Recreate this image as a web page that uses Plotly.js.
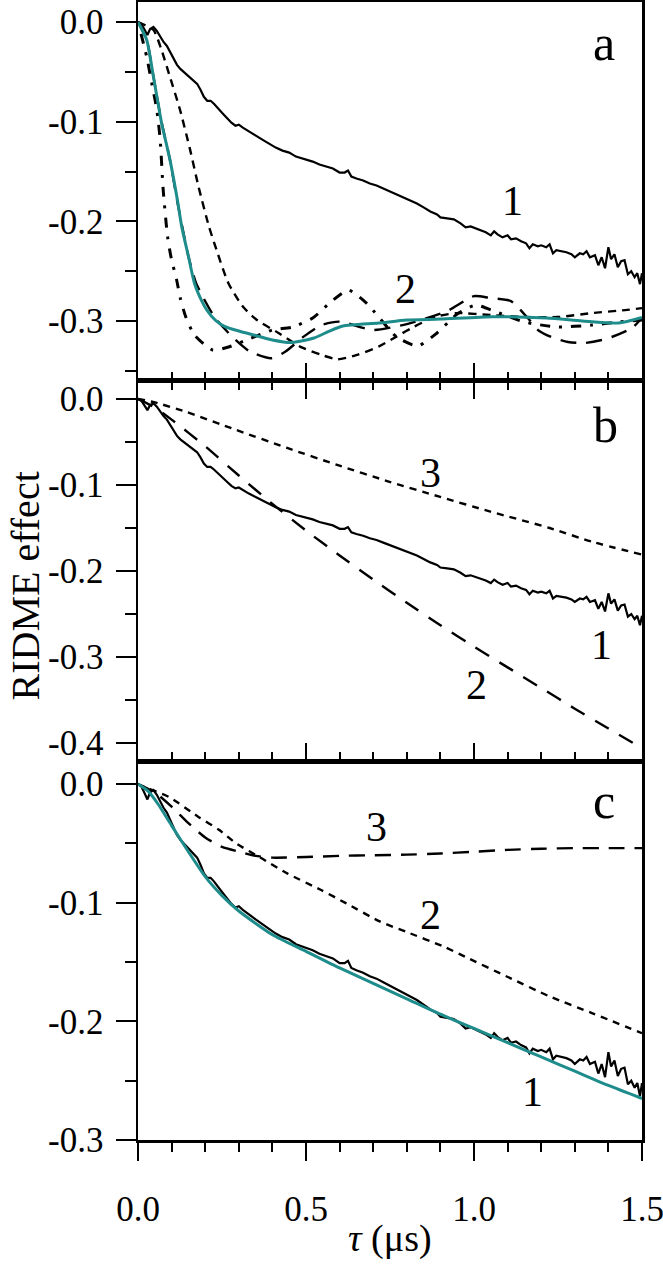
<!DOCTYPE html>
<html>
<head>
<meta charset="utf-8">
<script src="https://cdn.plot.ly/plotly-3.0.1.min.js"></script>
<style>html,body{margin:0;padding:0;background:#fff;}#chart{width:663px;height:1264px;}</style>
</head>
<body>
<div id="chart"></div>
<script>
// ---------- data ----------
// experimental RIDME trace (curve 1, same in all panels)
const tau = [0.000,0.010,0.020,0.028,0.036,0.046,0.056,0.066,0.076,0.086,0.096,0.106,0.116,0.126,0.136,0.146,0.156,0.166,0.176,0.186,0.196,0.206,0.216,0.226,0.236,0.250,0.264,0.278,0.290,0.300,0.312,0.330,0.350,0.370,0.390,0.410,0.430,0.450,0.470,0.490,0.505,0.520,0.540,0.560,0.580,0.600,0.615,0.625,0.635,0.650,0.670,0.690,0.710,0.730,0.750,0.770,0.790,0.810,0.830,0.850,0.870,0.890,0.900,0.920,0.940,0.960,0.975,0.990,1.005,1.020,1.035,1.050,1.060,1.070,1.085,1.100,1.110,1.125,1.140,1.155,1.165,1.175,1.190,1.200,1.215,1.225,1.235,1.245,1.260,1.275,1.290,1.300,1.315,1.325,1.335,1.345,1.360,1.370,1.380,1.390,1.400,1.408,1.418,1.428,1.438,1.448,1.458,1.468,1.478,1.486,1.494,1.500];
const ridme = [0.000,-0.002,-0.008,-0.013,-0.007,-0.005,-0.009,-0.015,-0.020,-0.024,-0.030,-0.037,-0.043,-0.047,-0.050,-0.053,-0.056,-0.059,-0.062,-0.068,-0.075,-0.079,-0.079,-0.082,-0.086,-0.091,-0.096,-0.101,-0.104,-0.103,-0.106,-0.110,-0.114,-0.118,-0.122,-0.126,-0.129,-0.131,-0.135,-0.137,-0.138,-0.140,-0.143,-0.145,-0.147,-0.151,-0.151,-0.149,-0.155,-0.157,-0.159,-0.162,-0.164,-0.167,-0.170,-0.173,-0.176,-0.179,-0.182,-0.186,-0.190,-0.193,-0.196,-0.197,-0.198,-0.202,-0.206,-0.205,-0.207,-0.209,-0.211,-0.214,-0.210,-0.213,-0.216,-0.214,-0.218,-0.217,-0.220,-0.222,-0.227,-0.223,-0.225,-0.224,-0.226,-0.223,-0.232,-0.229,-0.230,-0.231,-0.233,-0.236,-0.232,-0.233,-0.230,-0.236,-0.234,-0.244,-0.236,-0.247,-0.226,-0.238,-0.233,-0.246,-0.240,-0.239,-0.253,-0.250,-0.256,-0.252,-0.263,-0.252];

// panel a: fit (teal) and simulated traces
const fitA_x = [0,0.026,0.046,0.070,0.095,0.117,0.130,0.150,0.168,0.190,0.205,0.230,0.259,0.300,0.344,0.400,0.455,0.524,0.570,0.610,0.716,0.800,0.900,1.056,1.216,1.322,1.430,1.500];
const fitA_y = [0,-0.018,-0.055,-0.101,-0.138,-0.178,-0.205,-0.235,-0.262,-0.280,-0.289,-0.299,-0.3056,-0.310,-0.314,-0.319,-0.3216,-0.317,-0.310,-0.305,-0.302,-0.299,-0.298,-0.2956,-0.297,-0.2999,-0.302,-0.2963];
const shortA_x = [0,0.046,0.070,0.095,0.125,0.155,0.180,0.211,0.237,0.269,0.312,0.354,0.418,0.482,0.546,0.594,0.652,0.716,0.769,0.822,0.886,0.950,1.050,1.150,1.250,1.350,1.450,1.500];
const shortA_y = [0,-0.008,-0.028,-0.055,-0.088,-0.128,-0.165,-0.205,-0.232,-0.262,-0.2855,-0.299,-0.312,-0.3256,-0.334,-0.3384,-0.334,-0.3256,-0.3156,-0.3056,-0.2956,-0.292,-0.294,-0.296,-0.296,-0.292,-0.289,-0.287];
const longA_x = [0,0.026,0.046,0.070,0.095,0.117,0.150,0.173,0.227,0.280,0.333,0.397,0.439,0.493,0.546,0.600,0.700,0.800,0.920,1.000,1.050,1.110,1.160,1.190,1.230,1.280,1.330,1.380,1.410,1.470,1.500];
const longA_y = [0,-0.018,-0.055,-0.100,-0.138,-0.180,-0.235,-0.262,-0.2956,-0.3156,-0.3306,-0.3373,-0.3306,-0.3156,-0.304,-0.3006,-0.309,-0.303,-0.290,-0.275,-0.277,-0.280,-0.297,-0.309,-0.316,-0.321,-0.322,-0.319,-0.316,-0.307,-0.297];
const dotA_x = [0,0.026,0.041,0.056,0.066,0.075,0.088,0.099,0.115,0.126,0.142,0.168,0.222,0.270,0.330,0.400,0.460,0.520,0.570,0.626,0.680,0.770,0.833,0.890,0.950,1.005,1.067,1.150,1.250,1.350,1.430,1.500];
const dotA_y = [0,-0.035,-0.0615,-0.088,-0.118,-0.1685,-0.2153,-0.237,-0.2588,-0.2772,-0.2956,-0.314,-0.329,-0.326,-0.318,-0.309,-0.306,-0.297,-0.282,-0.269,-0.282,-0.316,-0.325,-0.312,-0.293,-0.284,-0.291,-0.301,-0.306,-0.304,-0.301,-0.299];

// panel b: simulated components
const b2_x = [0,0.05,0.1,0.2,0.3,0.4,0.5,0.6,0.7,0.8,0.9,1.0,1.1,1.2,1.3,1.4,1.5];
const b2_y = [0,-0.010,-0.024,-0.055,-0.089,-0.122,-0.153,-0.182,-0.210,-0.237,-0.263,-0.288,-0.312,-0.336,-0.360,-0.383,-0.406];
const b3_x = [0,0.05,0.141,0.292,0.444,0.595,0.746,0.897,1.049,1.225,1.351,1.5];
const b3_y = [0,-0.004,-0.0147,-0.036,-0.057,-0.077,-0.096,-0.1136,-0.131,-0.150,-0.166,-0.181];

// panel c: fit (teal) and components
const fitC_x = [0,0.03,0.06,0.1,0.15,0.2,0.25,0.3,0.4,0.5,0.6,0.7,0.8,0.9,1.0,1.1,1.2,1.3,1.4,1.5];
const fitC_y = [0,-0.006,-0.017,-0.035,-0.057,-0.078,-0.094,-0.107,-0.127,-0.141,-0.155,-0.168,-0.181,-0.194,-0.206,-0.218,-0.230,-0.242,-0.254,-0.265];
const c2_x = [0,0.015,0.091,0.179,0.242,0.292,0.368,0.444,0.545,0.620,0.721,0.797,0.910,0.973,1.099,1.225,1.351,1.5];
const c2_y = [0,-0.002,-0.0107,-0.0275,-0.0388,-0.050,-0.0626,-0.0753,-0.0893,-0.1006,-0.116,-0.1244,-0.137,-0.1455,-0.1624,-0.179,-0.193,-0.210];
const c3_x = [0,0.05,0.1,0.15,0.2,0.25,0.3,0.35,0.4,0.5,0.6,0.7,0.8,0.9,1.0,1.1,1.2,1.3,1.4,1.5];
const c3_y = [0,-0.007,-0.019,-0.033,-0.045,-0.053,-0.057,-0.0605,-0.062,-0.0615,-0.0605,-0.060,-0.0595,-0.0585,-0.057,-0.0555,-0.0545,-0.054,-0.054,-0.054];

// tick labels
const xTickVals = [0, 0.5, 1.0, 1.5];
const xTickText = ['0.0', '0.5', '1.0', '1.5'];
const yTickValsA = [0, -0.1, -0.2, -0.3];
const yTickTextA = ['0.0', '-0.1', '-0.2', '-0.3'];
const yTickValsB = [0, -0.1, -0.2, -0.3, -0.4];
const yTickTextB = ['0.0', '-0.1', '-0.2', '-0.3', '-0.4'];
const yTickValsC = [0, -0.1, -0.2, -0.3];
const yTickTextC = ['0.0', '-0.1', '-0.2', '-0.3'];

// curve labels
const labA = [{t:'1', x:1.115, y:-0.1795}, {t:'2', x:0.797, y:-0.268}];
const labB = [{t:'3', x:0.872, y:-0.086}, {t:'1', x:1.379, y:-0.286}, {t:'2', x:1.007, y:-0.3326}];
const labC = [{t:'3', x:0.711, y:-0.036}, {t:'2', x:0.872, y:-0.1104}, {t:'1', x:1.175, y:-0.2592}];
const panelLetters = [{t:'a', x:1.387, y:-0.021, ax:'y3'}, {t:'b', x:1.392, y:-0.030, ax:'y2'}, {t:'c', x:1.387, y:-0.014, ax:'y'}];

// ---------- styling ----------
const FONT = '"Liberation Serif", "Times New Roman", serif';
const TEAL = '#1f8c8c';
const BLK = '#000000';

function tr(x, y, xa, ya, color, width, dash, shape) {
  return {x: x, y: y, xaxis: xa, yaxis: ya, type: 'scatter', mode: 'lines',
    line: {color: color, width: width, dash: dash || 'solid', shape: shape || 'linear', smoothing: 0.6},
    hoverinfo: 'skip', showlegend: false};
}

const data = [
  // panel a
  tr(tau, ridme, 'x3', 'y3', BLK, 2.2),
  tr(dotA_x, dotA_y, 'x3', 'y3', BLK, 3, '3px,9px,10px,9px', 'spline'),
  tr(shortA_x, shortA_y, 'x3', 'y3', BLK, 2.4, '8px,6px', 'spline'),
  tr(longA_x, longA_y, 'x3', 'y3', BLK, 2.4, '16px,10px', 'spline'),
  tr(fitA_x, fitA_y, 'x3', 'y3', TEAL, 3, 'solid', 'spline'),
  // panel b
  tr(tau, ridme, 'x2', 'y2', BLK, 2.2),
  tr(b2_x, b2_y, 'x2', 'y2', BLK, 2.4, '16px,12px', 'spline'),
  tr(b3_x, b3_y, 'x2', 'y2', BLK, 2.4, '7px,6px', 'spline'),
  // panel c
  tr(tau, ridme, 'x', 'y', BLK, 2.2),
  tr(c2_x, c2_y, 'x', 'y', BLK, 2.4, '7px,6px', 'spline'),
  tr(c3_x, c3_y, 'x', 'y', BLK, 2.4, '16px,10px', 'spline'),
  tr(fitC_x, fitC_y, 'x', 'y', TEAL, 3, 'solid', 'spline')
];

const tickFont = {family: FONT, size: 35, color: '#000'};
function xAx(anchor, ticks, mirror, labels) {
  return {anchor: anchor, range: [0, 1.5], tickmode: 'array', tickvals: xTickVals, ticktext: xTickText,
    ticks: ticks, ticklen: 18, tickwidth: 2, tickcolor: '#000',
    minor: {tickmode: 'linear', tick0: 0, dtick: 0.1, ticks: ticks, ticklen: 9, tickwidth: 2, tickcolor: '#000', showgrid: false},
    showline: true, linewidth: 2.5, linecolor: '#000', mirror: mirror,
    showgrid: false, zeroline: false, showticklabels: labels, tickfont: tickFont, ticklabelstandoff: 18,
    ticklabeloverflow: 'allow', fixedrange: true};
}
function yAx(domain, range, vals, text, anchor) {
  return {domain: domain, range: range, anchor: anchor, tickmode: 'array', tickvals: vals, ticktext: text,
    ticks: 'outside', ticklen: 20, tickwidth: 2, tickcolor: '#000',
    minor: {tickmode: 'linear', tick0: 0, dtick: 0.05, ticks: 'outside', ticklen: 11, tickwidth: 2, tickcolor: '#000', showgrid: false},
    showline: true, linewidth: 2.5, linecolor: '#000', mirror: true,
    showgrid: false, zeroline: false, tickfont: tickFont, ticklabelstandoff: 5, fixedrange: true};
}

const annotations = [];
function addLabels(list, xr, yr) {
  list.forEach(l => annotations.push({text: l.t, x: l.x, y: l.y, xref: xr, yref: yr, showarrow: false,
    xanchor: 'center', yanchor: 'middle', font: {family: FONT, size: 42, color: '#000'}}));
}
addLabels(labA, 'x3', 'y3');
addLabels(labB, 'x2', 'y2');
addLabels(labC, 'x', 'y');
panelLetters.forEach(l => annotations.push({text: l.t, x: l.x, y: l.y, xref: l.ax === 'y' ? 'x' : (l.ax === 'y2' ? 'x2' : 'x3'), yref: l.ax,
  showarrow: false, xanchor: 'center', yanchor: 'middle', font: {family: FONT, size: 50, color: '#000'}}));
annotations.push({text: '<i>τ</i> (μs)', xref: 'paper', yref: 'paper', x: 0.5, y: -0.1075, showarrow: false,
  xanchor: 'center', yanchor: 'bottom', font: {family: FONT, size: 38, color: '#000'}});
annotations.push({text: 'RIDME effect', xref: 'paper', yref: 'paper', x: -0.272, y: 0.4868, showarrow: false,
  textangle: -90, xanchor: 'left', yanchor: 'middle', font: {family: FONT, size: 40, color: '#000'}});

const layout = {
  width: 663, height: 1264,
  margin: {l: 138, r: 21, t: 2, b: 124, pad: 0},
  paper_bgcolor: '#fff', plot_bgcolor: '#fff',
  showlegend: false,
  xaxis: xAx('y', 'outside', true, true),
  xaxis4: Object.assign(xAx('y', 'inside', false, false), {overlaying: 'x', side: 'top', showline: false}),
  xaxis2: xAx('y2', 'inside', 'ticks', false),
  xaxis3: xAx('y3', 'inside', true, false),
  yaxis: yAx([0, 0.3330], [-0.3, 0.0194], yTickValsC, yTickTextC, 'x'),
  yaxis2: yAx([0.3330, 0.6670], [-0.4209, 0.0209], yTickValsB, yTickTextB, 'x2'),
  yaxis3: yAx([0.6670, 1], [-0.3601, 0.0201], yTickValsA, yTickTextA, 'x3'),
  annotations: annotations
};

Plotly.newPlot('chart', data, layout, {staticPlot: true, displayModeBar: false});
</script>
</body>
</html>
